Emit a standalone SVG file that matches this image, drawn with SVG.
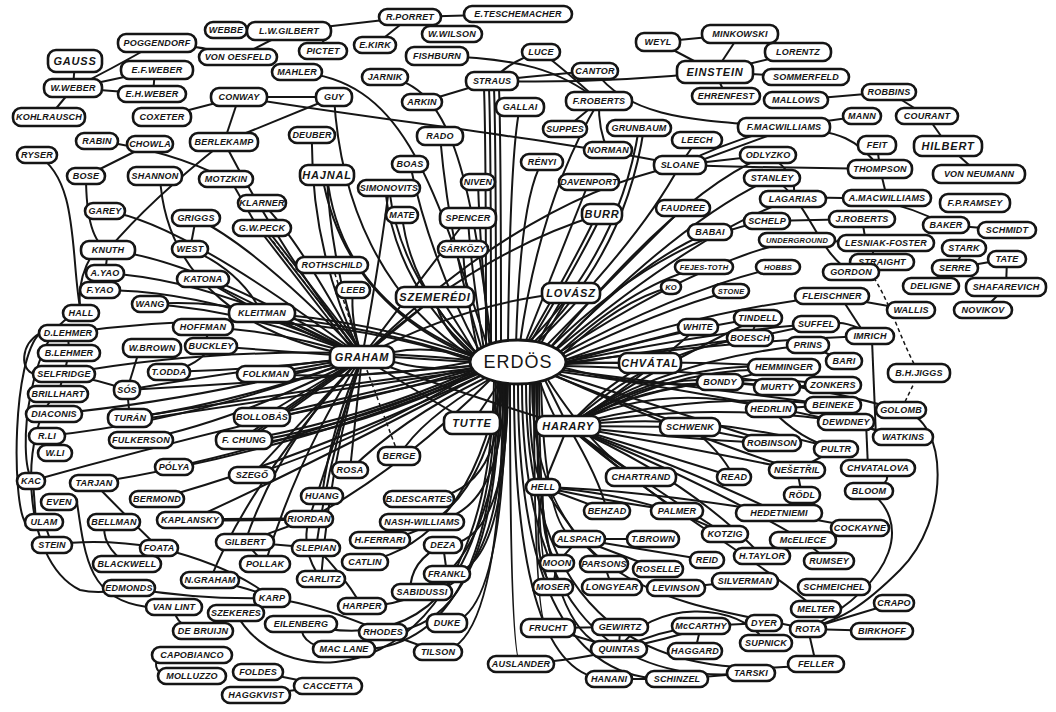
<svg xmlns="http://www.w3.org/2000/svg" width="1056" height="712" viewBox="0 0 1056 712">
<style>
rect{fill:#fff;stroke:#151515;stroke-width:2.6;rx:8px;ry:8px}
ellipse{fill:#fff;stroke:#151515;stroke-width:2.8}
text{font-family:"Liberation Sans",Arial,sans-serif;font-weight:bold;font-style:italic;font-size:9px;letter-spacing:0.2px;text-anchor:middle;dominant-baseline:central;fill:#151515}
text.b{font-size:11px;letter-spacing:0.8px}
text.s{font-size:7.5px}
text.e{font-size:18px;font-style:normal;letter-spacing:1px;font-weight:normal}
#connectors path{fill:none;stroke:#151515;stroke-width:2}
#connectors path.d{stroke-dasharray:4 3;stroke-width:1.5}
#connectors path.t{stroke-width:3.4}
</style>
<rect x="0" y="0" width="1056" height="712" style="fill:#fff;stroke:none;rx:0"/>
<g id="connectors">
<path d="M75 61L73 88"/><path d="M73 88Q110 70 157 43"/><path d="M73 88L157 70"/><path d="M73 88L152 94"/><path d="M155 70L153 94"/><path d="M73 88L49 117"/>
<path d="M157 43Q200 45 238 57"/><path d="M238 57L289 31"/><path d="M226 30L289 31"/><path d="M310 31Q328 38 323 51"/><path d="M289 31L410 17"/><path d="M410 17L375 45"/><path d="M410 17L452 34"/><path d="M410 17L518 14"/>
<path d="M162 117L239 97"/><path d="M239 97L224 142"/><path d="M239 97L334 97"/><path d="M334 97L224 142"/><path d="M239 97C380 120 560 140 680 165"/>
<path d="M297 72C400 80 430 170 488 348"/><path d="M385 77C450 85 470 170 492 348"/><path d="M437 56C520 58 560 70 599 101"/>
<path d="M492 81Q600 84 715 72"/><path d="M595 71Q540 75 492 81"/><path d="M595 71C630 120 700 120 784 127"/><path d="M422 102L492 81"/><path d="M541 52Q565 70 599 101"/><path d="M541 52Q510 60 492 81"/>
<path d="M599 101L565 129"/><path d="M599 101Q598 130 608 150"/>
<path d="M658 42L715 72"/><path d="M658 42L740 34"/><path d="M740 34L715 72"/><path d="M798 52L715 72"/><path d="M806 77L715 72"/><path d="M726 96L715 72"/>
<path d="M796 100L889 92"/><path d="M784 127L862 116"/><path d="M784 127C840 130 860 140 880 169"/><path d="M889 92L927 116"/><path d="M927 116L948 146"/><path d="M948 146L979 174"/><path d="M877 145L880 169"/><path d="M880 169L887 198"/>
<path d="M680 165Q780 168 880 169"/><path d="M680 165Q730 140 784 127"/><path d="M680 168Q735 148 784 130"/><path d="M680 165L768 155"/><path d="M697 140L680 165"/><path d="M768 155Q800 175 793 199"/>
<path d="M793 199C860 195 900 200 946 225"/><path d="M946 225L1007 230"/><path d="M862 219L866 243"/><path d="M870 243L876 262"/><path d="M797 240L886 243"/><path d="M767 221L862 219"/><path d="M772 178C810 200 815 250 851 272"/>
<path class="d" d="M870 272C890 300 900 340 919 373"/>
<path d="M964 248L955 268"/><path d="M955 268L1007 259"/><path d="M955 268L931 286"/><path d="M1007 259L1006 287"/><path d="M1006 287L983 310"/>
<path d="M832 296L911 310"/><path d="M840 296L866 336"/><path d="M816 324Q850 318 870 336"/><path d="M872 340L876 437"/>
<path class="d" d="M919 373L901 410"/>
<path d="M901 410C950 420 950 520 900 570S830 620 808 629"/><path d="M869 491C910 520 900 580 808 629"/><path d="M878 468Q900 480 869 491"/>
<path d="M866 422L868 468"/><path d="M846 422L903 437"/><path d="M836 449L797 470"/><path d="M797 470L802 495"/><path d="M779 513L860 528"/><path d="M803 540L829 561"/><path d="M762 556L803 540"/>
<path d="M808 629L894 603"/><path d="M808 629L882 631"/><path d="M808 629L816 664"/>
<path d="M758 318L750 338"/><path d="M750 338L816 324"/><path d="M808 345L844 361"/><path d="M720 382L777 387"/><path d="M720 382L784 367"/><path d="M777 387L833 385"/><path d="M771 409L833 405"/><path d="M771 409Q800 440 836 449"/><path d="M690 427L772 443"/><path d="M690 427Q720 450 734 477"/>
<path d="M568 426L690 427"/><path d="M568 426Q610 380 650 363"/><path d="M568 426Q660 370 720 382"/><path d="M568 426Q670 360 784 367"/><path d="M568 429Q672 364 784 370"/><path d="M568 426Q670 370 777 387"/><path d="M568 426Q680 365 833 385"/><path d="M568 426Q660 360 808 345"/><path d="M568 426Q650 350 750 338"/><path d="M568 426Q660 380 771 409"/><path d="M568 426Q700 390 833 405"/><path d="M568 426Q700 400 846 422"/><path d="M568 426Q700 410 836 449"/><path d="M568 426Q690 440 772 443"/><path d="M568 426Q700 450 797 470"/><path d="M568 426Q680 460 734 477"/><path d="M568 426Q610 460 641 477"/><path d="M568 426Q620 470 677 511"/><path d="M568 426Q600 480 607 511"/><path d="M568 426Q690 470 779 513"/><path d="M568 426Q690 480 762 556"/><path d="M568 426Q700 480 803 540"/><path d="M568 426C650 500 760 560 816 609"/><path d="M568 426Q640 480 725 534"/><path d="M568 426L543 487"/><path d="M568 426Q640 380 698 327"/><path d="M568 426Q650 370 758 318"/>
<path d="M543 487L607 511"/><path d="M543 487L579 539"/><path d="M543 487Q650 495 725 534"/><path d="M543 487Q640 490 779 513"/><path d="M543 487Q600 500 677 511"/><path d="M543 487Q540 540 557 563"/><path d="M543 487Q530 560 553 587"/>
<path d="M579 539L653 539"/><path d="M579 539L557 563"/><path d="M579 539L604 564"/><path d="M579 539L658 569"/><path d="M579 539L707 560"/><path d="M557 563L553 587"/><path d="M604 564L612 587"/><path d="M676 588L745 581"/>
<path d="M548 628L620 627"/><path d="M548 628L619 649"/><path d="M620 627L619 649"/><path d="M619 649Q660 630 701 626"/><path d="M619 649Q665 640 701 628"/><path d="M701 626L695 651"/><path d="M701 626L764 623"/><path d="M619 649C650 600 740 600 766 643"/><path d="M521 664Q580 660 619 649"/>
<path d="M609 679L677 679"/><path d="M677 679L751 673"/>
<path d="M37 155C80 180 70 260 81 313"/><path d="M97 141Q170 150 226 179"/><path d="M150 144L86 176"/><path d="M86 176Q86 240 108 250"/><path d="M160 176C165 280 250 340 362 357"/><path d="M224 142Q150 200 108 250"/><path d="M230 179L258 228"/><path d="M196 218L190 249"/>
<path d="M108 250L105 273"/><path d="M105 273L100 290"/><path d="M95 250Q75 280 81 313"/><path d="M190 249Q240 270 262 313"/><path d="M203 279L262 313"/><path d="M150 304Q210 300 262 313"/>
<path d="M68 333L69 353"/><path d="M69 353L64 374"/><path d="M64 374L58 394"/><path d="M40 333C20 345 20 370 34 374"/><path d="M203 327L211 346"/><path d="M140 348L127 390"/><path d="M169 372Q200 365 211 346"/><path d="M127 390L130 418"/><path d="M64 374Q100 380 127 390"/><path d="M47 436L55 453"/>
<path d="M33 481L36 522"/><path d="M44 522L52 545"/><path d="M105 522Q100 545 127 564"/><path class="t" d="M190 520L309 519"/><path d="M52 545Q100 538 159 548"/><path d="M94 483Q130 520 159 548"/><path d="M159 548Q230 565 272 598"/>
<path d="M245 542L265 564"/><path d="M245 542L316 548"/><path d="M245 542L309 519"/><path d="M210 580Q250 588 272 598"/><path d="M129 588Q200 600 272 598"/><path d="M174 607Q175 628 203 631"/><path d="M160 655Q150 668 165 676"/>
<path d="M258 672L328 686"/><path d="M256 695L328 686"/><path d="M301 624Q300 650 344 649"/><path d="M383 632L438 652"/><path d="M383 632Q320 605 272 598"/><path d="M362 606Q340 570 316 548"/><path d="M443 545L447 574"/><path d="M410 592Q410 560 443 545"/><path d="M321 579Q300 550 309 519"/>
<path d="M81 313C30 320 15 460 33 481"/><path d="M40 333C12 360 12 500 25 522"/><path d="M58 394C20 420 18 560 80 590Q100 595 129 588"/><path d="M77 502C85 560 90 600 147 607"/><path d="M236 613C280 700 490 700 494 381"/>
<path d="M486 350Q486 140 484 88"/><path d="M491 350Q491 140 489 88"/><path d="M496 350Q496 140 494 88"/><path d="M501 350Q501 140 499 88"/><path d="M508 345Q510 150 520 107"/><path d="M516 345Q520 200 542 162"/><path d="M490 350Q480 250 478 182"/><path d="M484 350Q470 260 468 218"/><path d="M478 352Q465 290 463 249"/><path d="M474 356Q440 330 435 297"/><path d="M476 354Q452 315 440 297"/><path d="M482 350Q450 250 440 136"/><path d="M480 352Q430 260 410 164"/><path d="M478 354Q400 280 389 188"/><path d="M476 356Q395 285 385 188"/><path d="M478 355Q410 290 402 215"/><path d="M476 356Q340 300 327 175"/><path d="M476 358Q345 305 322 175"/><path d="M474 358C380 300 340 200 334 97"/>
<path d="M540 345Q560 310 571 293"/><path d="M536 346Q555 310 566 293"/><path d="M530 343Q580 260 602 214"/><path d="M527 343Q575 260 597 214"/><path d="M525 343Q570 230 589 182"/><path d="M520 343Q540 200 599 101"/><path d="M528 343Q620 250 639 128"/><path d="M532 344Q625 255 644 128"/><path d="M535 345Q640 240 680 165"/><path d="M545 347Q640 250 683 208"/><path d="M555 350Q640 260 710 232"/><path d="M550 348Q660 240 767 221"/><path d="M560 352Q640 280 704 267"/><path d="M562 355Q620 300 671 287"/><path d="M564 357Q660 310 731 291"/><path d="M562 354Q680 290 778 267"/><path d="M560 352Q700 260 797 240"/><path d="M555 350Q680 220 772 178"/><path d="M550 348Q680 190 768 155"/><path d="M556 350Q700 230 793 199"/>
<path d="M565 360Q650 340 698 327"/><path d="M565 360Q700 310 832 296"/><path d="M566 362Q680 330 758 318"/><path d="M566 364Q690 345 750 338"/><path d="M566 362Q720 330 816 324"/><path d="M566 362L620 363"/><path d="M565 368Q650 390 720 382"/><path d="M566 363Q740 340 870 336"/><path d="M566 364Q700 360 784 367"/><path d="M562 370Q720 390 833 405"/><path d="M562 372Q760 400 903 437"/><path d="M565 366Q760 370 901 410"/>
<path d="M545 380L568 426"/><path d="M540 382Q550 410 560 426"/><path d="M500 382L472 423"/><path d="M530 382Q528 460 543 487"/><path d="M555 376Q640 410 690 427"/><path d="M548 380Q600 460 641 477"/><path d="M558 374Q700 420 772 443"/><path d="M556 376Q700 440 797 470"/>
<path d="M510 383Q510 664 521 664"/><path d="M514 383Q514 680 609 679"/><path d="M518 384Q518 688 677 679"/><path d="M522 384Q522 695 751 673"/><path d="M526 384Q526 700 816 664"/><path d="M532 383C532 600 700 605 808 629"/><path d="M534 383Q534 628 548 628"/><path d="M536 383Q538 649 619 649"/><path d="M537 383Q537 587 553 587"/><path d="M539 383Q540 563 557 563"/><path d="M541 383Q545 539 579 539"/>
<path d="M506 383Q504 623 447 623"/><path d="M503 383Q502 652 438 652"/><path d="M500 382Q498 632 383 632"/><path d="M498 381Q496 662 344 649"/><path d="M496 381Q494 672 301 624"/><path d="M501 382Q500 606 362 606"/><path d="M505 383Q505 592 422 592"/><path d="M507 383Q507 574 447 574"/><path d="M508 383Q508 545 443 545"/><path d="M504 383Q503 522 422 522"/><path d="M502 383Q500 499 419 499"/><path d="M500 382Q470 540 365 562"/><path d="M502 382Q480 530 380 540"/>
<path d="M470 362L394 357"/><path d="M470 358Q430 345 394 352"/><path d="M470 366Q430 372 394 362"/><path d="M472 356Q370 320 262 313"/><path d="M472 359Q370 325 262 316"/><path d="M470 362Q380 380 266 374"/><path d="M472 368Q360 395 262 417"/><path d="M472 370Q365 400 262 420"/><path d="M474 370Q360 420 244 440"/><path d="M474 372Q362 424 244 443"/><path d="M475 374Q365 428 244 446"/><path d="M476 372Q360 440 252 475"/><path d="M474 368Q300 390 130 418"/><path d="M474 370Q300 395 130 421"/><path d="M472 366Q300 380 127 390"/><path d="M476 374Q300 440 174 467"/><path d="M485 378Q400 420 350 470"/><path d="M488 380Q420 420 399 456"/><path d="M490 380Q400 470 309 519"/><path d="M480 376Q300 470 190 520"/><path d="M480 376Q300 460 157 499"/><path d="M478 374Q300 450 94 483"/><path d="M478 372Q250 420 31 481"/><path d="M470 360Q250 340 64 374"/><path d="M470 360Q300 300 68 333"/>
<path class="d" d="M362 357L332 265"/><path d="M362 357Q350 320 353 290"/><path d="M362 357L262 313"/><path d="M362 357Q420 280 468 218"/><path d="M362 357L435 297"/><path d="M362 357Q330 260 327 175"/><path d="M362 357Q310 250 312 135"/><path d="M362 357Q380 260 389 188"/><path d="M362 357Q280 250 224 142"/><path d="M362 357Q200 260 108 250"/><path d="M362 357Q180 220 105 211"/><path d="M362 357Q260 250 196 218"/>
<path d="M362 357L262 228"/><path d="M358 357L258 228"/><path d="M366 357L266 228"/><path class="d" d="M356 350L272 240"/><path d="M362 357Q300 240 262 203"/><path d="M362 357L203 279"/><path d="M362 357Q250 310 150 304"/><path d="M362 357Q280 330 203 327"/><path d="M362 357L211 346"/><path d="M362 357L266 374"/><path d="M362 360L266 377"/><path d="M362 357L262 417"/><path d="M362 357L244 440"/><path d="M360 357L240 440"/><path d="M364 357L248 440"/><path d="M362 357L252 475"/>
<path d="M362 357Q260 370 169 372"/><path d="M362 357Q200 400 54 414"/><path d="M362 357Q240 370 127 390"/><path d="M362 357Q250 400 130 418"/><path d="M362 357L309 519"/><path d="M362 357Q300 450 265 564"/><path d="M362 357Q280 440 245 542"/><path d="M362 357L350 470"/><path class="d" d="M362 357L399 456"/><path d="M362 357Q330 430 322 496"/><path d="M362 357Q430 400 472 423"/><path d="M362 357Q470 300 571 293"/><path d="M362 357Q480 250 602 214"/><path d="M362 357Q520 200 680 165"/><path d="M362 357Q480 400 568 426"/><path d="M362 357Q330 460 321 579"/><path d="M362 357Q250 480 210 580"/><path d="M362 357Q330 450 316 548"/><path d="M362 357Q220 280 105 273"/><path d="M362 357Q220 290 100 290"/><path d="M362 357Q240 420 141 440"/><path d="M362 357Q200 420 47 436"/>
</g>
<g id="nodes">
<g id="gauss" transform="translate(75 61)"><rect x="-27" y="-11" width="54" height="22"/><text class="b">GAUSS</text></g>
<g id="w-weber" transform="translate(73 88)"><rect x="-29" y="-9" width="58" height="18"/><text>W.WEBER</text></g>
<g id="poggendorf" transform="translate(157 43)"><rect x="-39" y="-9" width="78" height="18"/><text>POGGENDORF</text></g>
<g id="ef-weber" transform="translate(157 70)"><rect x="-36" y="-9" width="72" height="18"/><text>E.F.WEBER</text></g>
<g id="eh-weber" transform="translate(152 94)"><rect x="-34" y="-8" width="68" height="16"/><text>E.H.WEBER</text></g>
<g id="kohlrausch" transform="translate(49 117)"><rect x="-36" y="-9" width="72" height="18"/><text>KOHLRAUSCH</text></g>
<g id="webbe" transform="translate(226 30)"><rect x="-21" y="-8" width="42" height="16"/><text>WEBBE</text></g>
<g id="lw-gilbert" transform="translate(289 31)"><rect x="-42" y="-9" width="84" height="18"/><text>L.W.GILBERT</text></g>
<g id="von-oesfeld" transform="translate(238 57)"><rect x="-39" y="-8" width="78" height="16"/><text>VON OESFELD</text></g>
<g id="pictet" transform="translate(323 51)"><rect x="-24" y="-8" width="48" height="16"/><text>PICTET</text></g>
<g id="e-kirk" transform="translate(375 45)"><rect x="-21" y="-8" width="42" height="16"/><text>E.KIRK</text></g>
<g id="r-porret" transform="translate(410 17)"><rect x="-31" y="-8" width="62" height="16"/><text>R.PORRET</text></g>
<g id="w-wilson" transform="translate(452 34)"><rect x="-30" y="-8" width="60" height="16"/><text>W.WILSON</text></g>
<g id="e-teschemacher" transform="translate(518 14)"><rect x="-54" y="-8" width="108" height="16"/><text>E.TESCHEMACHER</text></g>
<g id="mahler" transform="translate(297 72)"><rect x="-25" y="-8" width="50" height="16"/><text>MAHLER</text></g>
<g id="jarnik" transform="translate(385 77)"><rect x="-23" y="-8" width="46" height="16"/><text>JARNIK</text></g>
<g id="fishburn" transform="translate(437 56)"><rect x="-31" y="-9" width="62" height="18"/><text>FISHBURN</text></g>
<g id="straus" transform="translate(492 81)"><rect x="-26" y="-9" width="52" height="18"/><text>STRAUS</text></g>
<g id="arkin" transform="translate(422 102)"><rect x="-20" y="-8" width="40" height="16"/><text>ARKIN</text></g>
<g id="gallai" transform="translate(520 107)"><rect x="-24" y="-9" width="48" height="18"/><text>GALLAI</text></g>
<g id="guy" transform="translate(334 97)"><rect x="-18" y="-9" width="36" height="18"/><text>GUY</text></g>
<g id="conway" transform="translate(239 97)"><rect x="-28" y="-9" width="56" height="18"/><text>CONWAY</text></g>
<g id="coxeter" transform="translate(162 117)"><rect x="-29" y="-9" width="58" height="18"/><text>COXETER</text></g>
<g id="berlekamp" transform="translate(224 142)"><rect x="-34" y="-9" width="68" height="18"/><text>BERLEKAMP</text></g>
<g id="rabin" transform="translate(97 141)"><rect x="-21" y="-8" width="42" height="16"/><text>RABIN</text></g>
<g id="chowla" transform="translate(150 144)"><rect x="-23" y="-8" width="46" height="16"/><text>CHOWLA</text></g>
<g id="ryser" transform="translate(37 155)"><rect x="-20" y="-8" width="40" height="16"/><text>RYSER</text></g>
<g id="bose" transform="translate(86 176)"><rect x="-19" y="-8" width="38" height="16"/><text>BOSE</text></g>
<g id="shannon" transform="translate(155 176)"><rect x="-27" y="-9" width="54" height="18"/><text>SHANNON</text></g>
<g id="motzkin" transform="translate(226 179)"><rect x="-27" y="-8" width="54" height="16"/><text>MOTZKIN</text></g>
<g id="klarner" transform="translate(262 203)"><rect x="-24" y="-8" width="48" height="16"/><text>KLARNER</text></g>
<g id="garey" transform="translate(105 211)"><rect x="-20" y="-8" width="40" height="16"/><text>GAREY</text></g>
<g id="griggs" transform="translate(196 218)"><rect x="-24" y="-8" width="48" height="16"/><text>GRIGGS</text></g>
<g id="gw-peck" transform="translate(262 228)"><rect x="-29" y="-8" width="58" height="16"/><text>G.W.PECK</text></g>
<g id="deuber" transform="translate(312 135)"><rect x="-23" y="-8" width="46" height="16"/><text>DEUBER</text></g>
<g id="rado" transform="translate(440 136)"><rect x="-23" y="-9" width="46" height="18"/><text>RADO</text></g>
<g id="boas" transform="translate(410 164)"><rect x="-18" y="-8" width="36" height="16"/><text>BOAS</text></g>
<g id="hajnal" transform="translate(327 175)"><rect x="-27" y="-10" width="54" height="20"/><text class="b">HAJNAL</text></g>
<g id="simonovits" transform="translate(389 188)"><rect x="-31" y="-8" width="62" height="16"/><text>SIMONOVITS</text></g>
<g id="niven" transform="translate(478 182)"><rect x="-17" y="-8" width="34" height="16"/><text>NIVEN</text></g>
<g id="mate" transform="translate(402 215)"><rect x="-16" y="-8" width="32" height="16"/><text>MATE</text></g>
<g id="spencer" transform="translate(468 218)"><rect x="-28" y="-10" width="56" height="20"/><text>SPENCER</text></g>
<g id="luce" transform="translate(541 52)"><rect x="-19" y="-8" width="38" height="16"/><text>LUCE</text></g>
<g id="cantor" transform="translate(595 71)"><rect x="-23" y="-8" width="46" height="16"/><text>CANTOR</text></g>
<g id="f-roberts" transform="translate(599 101)"><rect x="-33" y="-9" width="66" height="18"/><text>F.ROBERTS</text></g>
<g id="suppes" transform="translate(565 129)"><rect x="-22" y="-8" width="44" height="16"/><text>SUPPES</text></g>
<g id="grunbaum" transform="translate(639 128)"><rect x="-32" y="-8" width="64" height="16"/><text>GRUNBAUM</text></g>
<g id="leech" transform="translate(697 140)"><rect x="-25" y="-8" width="50" height="16"/><text>LEECH</text></g>
<g id="norman" transform="translate(608 150)"><rect x="-24" y="-8" width="48" height="16"/><text>NORMAN</text></g>
<g id="renyi" transform="translate(542 162)"><rect x="-21" y="-8" width="42" height="16"/><text>RÉNYI</text></g>
<g id="sloane" transform="translate(680 165)"><rect x="-26" y="-9" width="52" height="18"/><text>SLOANE</text></g>
<g id="davenport" transform="translate(589 182)"><rect x="-30" y="-8" width="60" height="16"/><text>DAVENPORT</text></g>
<g id="burr" transform="translate(602 214)"><rect x="-20" y="-10" width="40" height="20"/><text class="b">BURR</text></g>
<g id="faudree" transform="translate(683 208)"><rect x="-27" y="-8" width="54" height="16"/><text>FAUDREE</text></g>
<g id="babai" transform="translate(710 232)"><rect x="-22" y="-8" width="44" height="16"/><text>BABAI</text></g>
<g id="schelp" transform="translate(767 221)"><rect x="-23" y="-8" width="46" height="16"/><text>SCHELP</text></g>
<g id="weyl" transform="translate(658 42)"><rect x="-22" y="-9" width="44" height="18"/><text>WEYL</text></g>
<g id="minkowski" transform="translate(740 34)"><rect x="-38" y="-9" width="76" height="18"/><text>MINKOWSKI</text></g>
<g id="einstein" transform="translate(715 72)"><rect x="-38" y="-11" width="76" height="22"/><text class="b">EINSTEIN</text></g>
<g id="ehrenfest" transform="translate(726 96)"><rect x="-34" y="-8" width="68" height="16"/><text>EHRENFEST</text></g>
<g id="lorentz" transform="translate(798 52)"><rect x="-33" y="-9" width="66" height="18"/><text>LORENTZ</text></g>
<g id="sommerfeld" transform="translate(806 77)"><rect x="-43" y="-8" width="86" height="16"/><text>SOMMERFELD</text></g>
<g id="mallows" transform="translate(796 100)"><rect x="-32" y="-8" width="64" height="16"/><text>MALLOWS</text></g>
<g id="f-macwilliams" transform="translate(784 127)"><rect x="-46" y="-9" width="92" height="18"/><text>F.MACWILLIAMS</text></g>
<g id="odlyzko" transform="translate(768 155)"><rect x="-28" y="-8" width="56" height="16"/><text>ODLYZKO</text></g>
<g id="stanley" transform="translate(772 178)"><rect x="-28" y="-8" width="56" height="16"/><text>STANLEY</text></g>
<g id="lagarias" transform="translate(793 199)"><rect x="-33" y="-8" width="66" height="16"/><text>LAGARIAS</text></g>
<g id="robbins" transform="translate(889 92)"><rect x="-27" y="-8" width="54" height="16"/><text>ROBBINS</text></g>
<g id="mann" transform="translate(862 116)"><rect x="-19" y="-8" width="38" height="16"/><text>MANN</text></g>
<g id="courant" transform="translate(927 116)"><rect x="-31" y="-8" width="62" height="16"/><text>COURANT</text></g>
<g id="feit" transform="translate(877 145)"><rect x="-19" y="-9" width="38" height="18"/><text>FEIT</text></g>
<g id="hilbert" transform="translate(948 146)"><rect x="-34" y="-10" width="68" height="20"/><text class="b">HILBERT</text></g>
<g id="thompson" transform="translate(880 169)"><rect x="-32" y="-9" width="64" height="18"/><text>THOMPSON</text></g>
<g id="von-neumann" transform="translate(979 174)"><rect x="-46" y="-9" width="92" height="18"/><text>VON NEUMANN</text></g>
<g id="a-macwilliams" transform="translate(887 198)"><rect x="-44" y="-8" width="88" height="16"/><text>A.MACWILLIAMS</text></g>
<g id="fp-ramsey" transform="translate(975 203)"><rect x="-35" y="-9" width="70" height="18"/><text>F.P.RAMSEY</text></g>
<g id="j-roberts" transform="translate(862 219)"><rect x="-33" y="-8" width="66" height="16"/><text>J.ROBERTS</text></g>
<g id="baker" transform="translate(946 225)"><rect x="-23" y="-8" width="46" height="16"/><text>BAKER</text></g>
<g id="schmidt" transform="translate(1007 230)"><rect x="-29" y="-8" width="58" height="16"/><text>SCHMIDT</text></g>
<g id="lesniak-foster" transform="translate(886 243)"><rect x="-48" y="-8" width="96" height="16"/><text>LESNIAK-FOSTER</text></g>
<g id="underground" transform="translate(797 240)"><rect x="-38" y="-7" width="76" height="14"/><text class="s">UNDERGROUND</text></g>
<g id="stark" transform="translate(964 248)"><rect x="-22" y="-8" width="44" height="16"/><text>STARK</text></g>
<g id="straight" transform="translate(882 262)"><rect x="-32" y="-8" width="64" height="16"/><text>STRAIGHT</text></g>
<g id="tate" transform="translate(1007 259)"><rect x="-19" y="-8" width="38" height="16"/><text>TATE</text></g>
<g id="serre" transform="translate(955 268)"><rect x="-23" y="-8" width="46" height="16"/><text>SERRE</text></g>
<g id="gordon" transform="translate(851 272)"><rect x="-28" y="-8" width="56" height="16"/><text>GORDON</text></g>
<g id="deligne" transform="translate(931 286)"><rect x="-28" y="-8" width="56" height="16"/><text>DELIGNE</text></g>
<g id="shafarevich" transform="translate(1006 287)"><rect x="-40" y="-9" width="80" height="18"/><text>SHAFAREVICH</text></g>
<g id="fleischner" transform="translate(832 296)"><rect x="-37" y="-8" width="74" height="16"/><text>FLEISCHNER</text></g>
<g id="novikov" transform="translate(983 310)"><rect x="-29" y="-8" width="58" height="16"/><text>NOVIKOV</text></g>
<g id="wallis" transform="translate(911 310)"><rect x="-24" y="-8" width="48" height="16"/><text>WALLIS</text></g>
<g id="tindell" transform="translate(758 318)"><rect x="-24" y="-8" width="48" height="16"/><text>TINDELL</text></g>
<g id="suffel" transform="translate(816 324)"><rect x="-23" y="-8" width="46" height="16"/><text>SUFFEL</text></g>
<g id="imrich" transform="translate(870 336)"><rect x="-24" y="-8" width="48" height="16"/><text>IMRICH</text></g>
<g id="boesch" transform="translate(750 338)"><rect x="-23" y="-8" width="46" height="16"/><text>BOESCH</text></g>
<g id="white" transform="translate(698 327)"><rect x="-20" y="-8" width="40" height="16"/><text>WHITE</text></g>
<g id="stone" transform="translate(731 291)"><rect x="-18" y="-7" width="36" height="14"/><text class="s">STONE</text></g>
<g id="ko" transform="translate(671 287)"><rect x="-10" y="-7" width="20" height="14"/><text class="s">KO</text></g>
<g id="fejes-toth" transform="translate(704 267)"><rect x="-29" y="-7" width="58" height="14"/><text class="s">FEJES-TOTH</text></g>
<g id="hobbs" transform="translate(778 267)"><rect x="-22" y="-7" width="44" height="14"/><text class="s">HOBBS</text></g>
<g id="prins" transform="translate(808 345)"><rect x="-21" y="-8" width="42" height="16"/><text>PRINS</text></g>
<g id="bari" transform="translate(844 361)"><rect x="-18" y="-8" width="36" height="16"/><text>BARI</text></g>
<g id="hemminger" transform="translate(784 367)"><rect x="-36" y="-8" width="72" height="16"/><text>HEMMINGER</text></g>
<g id="murty" transform="translate(777 387)"><rect x="-23" y="-8" width="46" height="16"/><text>MURTY</text></g>
<g id="bondy" transform="translate(720 382)"><rect x="-23" y="-8" width="46" height="16"/><text>BONDY</text></g>
<g id="zonkers" transform="translate(833 385)"><rect x="-28" y="-8" width="56" height="16"/><text>ZONKERS</text></g>
<g id="hedrlin" transform="translate(771 409)"><rect x="-25" y="-8" width="50" height="16"/><text>HEDRLIN</text></g>
<g id="beineke" transform="translate(833 405)"><rect x="-28" y="-8" width="56" height="16"/><text>BEINEKE</text></g>
<g id="bh-jiggs" transform="translate(919 373)"><rect x="-31" y="-9" width="62" height="18"/><text>B.H.JIGGS</text></g>
<g id="golomb" transform="translate(901 410)"><rect x="-25" y="-8" width="50" height="16"/><text>GOLOMB</text></g>
<g id="dewdney" transform="translate(846 422)"><rect x="-28" y="-8" width="56" height="16"/><text>DEWDNEY</text></g>
<g id="watkins" transform="translate(903 437)"><rect x="-30" y="-8" width="60" height="16"/><text>WATKINS</text></g>
<g id="pultr" transform="translate(836 449)"><rect x="-22" y="-8" width="44" height="16"/><text>PULTR</text></g>
<g id="chvatalova" transform="translate(878 468)"><rect x="-37" y="-8" width="74" height="16"/><text>CHVATALOVA</text></g>
<g id="nesetril" transform="translate(797 470)"><rect x="-28" y="-8" width="56" height="16"/><text>NEŠETŘIL</text></g>
<g id="robinson" transform="translate(772 443)"><rect x="-29" y="-8" width="58" height="16"/><text>ROBINSON</text></g>
<g id="schwenk" transform="translate(690 427)"><rect x="-30" y="-9" width="60" height="18"/><text>SCHWENK</text></g>
<g id="chvatal" transform="translate(650 363)"><rect x="-31" y="-10" width="62" height="20"/><text class="b">CHVÁTAL</text></g>
<g id="harary" transform="translate(568 426)"><rect x="-32" y="-10" width="64" height="20"/><text class="b">HARARY</text></g>
<g id="lovasz" transform="translate(571 293)"><rect x="-29" y="-10" width="58" height="20"/><text class="b">LOVÁSZ</text></g>
<g id="chartrand" transform="translate(641 477)"><rect x="-35" y="-9" width="70" height="18"/><text>CHARTRAND</text></g>
<g id="read" transform="translate(734 477)"><rect x="-17" y="-8" width="34" height="16"/><text>READ</text></g>
<g id="graham" transform="translate(362 357)"><rect x="-32" y="-11" width="64" height="22"/><text class="b">GRAHAM</text></g>
<g id="rothschild" transform="translate(332 265)"><rect x="-36" y="-8" width="72" height="16"/><text>ROTHSCHILD</text></g>
<g id="leeb" transform="translate(353 290)"><rect x="-17" y="-8" width="34" height="16"/><text>LEEB</text></g>
<g id="szemeredi" transform="translate(435 297)"><rect x="-39" y="-10" width="78" height="20"/><text class="b">SZEMERÉDI</text></g>
<g id="sarkozy" transform="translate(463 249)"><rect x="-25" y="-8" width="50" height="16"/><text>SÁRKÖZY</text></g>
<g id="tutte" transform="translate(472 423)"><rect x="-28" y="-11" width="56" height="22"/><text class="b">TUTTE</text></g>
<g id="berge" transform="translate(399 456)"><rect x="-21" y="-9" width="42" height="18"/><text>BERGE</text></g>
<g id="rosa" transform="translate(350 470)"><rect x="-18" y="-8" width="36" height="16"/><text>ROSA</text></g>
<g id="kleitman" transform="translate(262 313)"><rect x="-33" y="-9" width="66" height="18"/><text>KLEITMAN</text></g>
<g id="folkman" transform="translate(266 374)"><rect x="-29" y="-8" width="58" height="16"/><text>FOLKMAN</text></g>
<g id="bollobas" transform="translate(262 417)"><rect x="-28" y="-9" width="56" height="18"/><text>BOLLOBÁS</text></g>
<g id="f-chung" transform="translate(244 440)"><rect x="-28" y="-9" width="56" height="18"/><text>F. CHUNG</text></g>
<g id="szego" transform="translate(252 475)"><rect x="-23" y="-8" width="46" height="16"/><text>SZEGŐ</text></g>
<g id="knuth" transform="translate(108 250)"><rect x="-27" y="-9" width="54" height="18"/><text>KNUTH</text></g>
<g id="west" transform="translate(190 249)"><rect x="-18" y="-8" width="36" height="16"/><text>WEST</text></g>
<g id="a-yao" transform="translate(105 273)"><rect x="-19" y="-8" width="38" height="16"/><text>A.YAO</text></g>
<g id="f-yao" transform="translate(100 290)"><rect x="-20" y="-8" width="40" height="16"/><text>F.YAO</text></g>
<g id="katona" transform="translate(203 279)"><rect x="-26" y="-8" width="52" height="16"/><text>KATONA</text></g>
<g id="wang" transform="translate(150 304)"><rect x="-18" y="-8" width="36" height="16"/><text>WANG</text></g>
<g id="hall" transform="translate(81 313)"><rect x="-18" y="-8" width="36" height="16"/><text>HALL</text></g>
<g id="d-lehmer" transform="translate(68 333)"><rect x="-29" y="-8" width="58" height="16"/><text>D.LEHMER</text></g>
<g id="hoffman" transform="translate(203 327)"><rect x="-30" y="-8" width="60" height="16"/><text>HOFFMAN</text></g>
<g id="b-lehmer" transform="translate(69 353)"><rect x="-31" y="-8" width="62" height="16"/><text>B.LEHMER</text></g>
<g id="w-brown" transform="translate(152 348)"><rect x="-29" y="-9" width="58" height="18"/><text>W.BROWN</text></g>
<g id="buckley" transform="translate(211 346)"><rect x="-26" y="-8" width="52" height="16"/><text>BUCKLEY</text></g>
<g id="t-odda" transform="translate(169 372)"><rect x="-21" y="-8" width="42" height="16"/><text>T.ODDA</text></g>
<g id="selfridge" transform="translate(64 374)"><rect x="-31" y="-8" width="62" height="16"/><text>SELFRIDGE</text></g>
<g id="sos" transform="translate(127 390)"><rect x="-13" y="-9" width="26" height="18"/><text>SÓS</text></g>
<g id="brillhart" transform="translate(58 394)"><rect x="-30" y="-8" width="60" height="16"/><text>BRILLHART</text></g>
<g id="turan" transform="translate(130 418)"><rect x="-22" y="-9" width="44" height="18"/><text>TURÁN</text></g>
<g id="diaconis" transform="translate(54 414)"><rect x="-28" y="-8" width="56" height="16"/><text>DIACONIS</text></g>
<g id="r-li" transform="translate(47 436)"><rect x="-18" y="-8" width="36" height="16"/><text>R.LI</text></g>
<g id="fulkerson" transform="translate(141 440)"><rect x="-32" y="-8" width="64" height="16"/><text>FULKERSON</text></g>
<g id="w-li" transform="translate(55 453)"><rect x="-17" y="-8" width="34" height="16"/><text>W.LI</text></g>
<g id="polya" transform="translate(174 467)"><rect x="-19" y="-8" width="38" height="16"/><text>PÓLYA</text></g>
<g id="kac" transform="translate(31 481)"><rect x="-14" y="-8" width="28" height="16"/><text>KAC</text></g>
<g id="tarjan" transform="translate(94 483)"><rect x="-24" y="-8" width="48" height="16"/><text>TARJAN</text></g>
<g id="even" transform="translate(59 502)"><rect x="-18" y="-8" width="36" height="16"/><text>EVEN</text></g>
<g id="bermond" transform="translate(157 499)"><rect x="-27" y="-8" width="54" height="16"/><text>BERMOND</text></g>
<g id="ulam" transform="translate(44 522)"><rect x="-19" y="-8" width="38" height="16"/><text>ULAM</text></g>
<g id="bellman" transform="translate(114 522)"><rect x="-26" y="-8" width="52" height="16"/><text>BELLMAN</text></g>
<g id="kaplansky" transform="translate(190 520)"><rect x="-33" y="-8" width="66" height="16"/><text>KAPLANSKY</text></g>
<g id="stein" transform="translate(52 545)"><rect x="-20" y="-8" width="40" height="16"/><text>STEIN</text></g>
<g id="foata" transform="translate(159 548)"><rect x="-19" y="-8" width="38" height="16"/><text>FOATA</text></g>
<g id="gilbert" transform="translate(245 542)"><rect x="-29" y="-8" width="58" height="16"/><text>GILBERT</text></g>
<g id="blackwell" transform="translate(127 564)"><rect x="-34" y="-8" width="68" height="16"/><text>BLACKWELL</text></g>
<g id="pollak" transform="translate(265 564)"><rect x="-25" y="-8" width="50" height="16"/><text>POLLAK</text></g>
<g id="n-graham" transform="translate(210 580)"><rect x="-29" y="-8" width="58" height="16"/><text>N.GRAHAM</text></g>
<g id="edmonds" transform="translate(129 588)"><rect x="-26" y="-8" width="52" height="16"/><text>EDMONDS</text></g>
<g id="karp" transform="translate(272 598)"><rect x="-18" y="-9" width="36" height="18"/><text>KARP</text></g>
<g id="van-lint" transform="translate(174 607)"><rect x="-28" y="-8" width="56" height="16"/><text>VAN LINT</text></g>
<g id="szekeres" transform="translate(236 613)"><rect x="-28" y="-8" width="56" height="16"/><text>SZEKERES</text></g>
<g id="de-bruijn" transform="translate(203 631)"><rect x="-30" y="-8" width="60" height="16"/><text>DE BRUIJN</text></g>
<g id="eilenberg" transform="translate(301 624)"><rect x="-36" y="-8" width="72" height="16"/><text>EILENBERG</text></g>
<g id="capobianco" transform="translate(192 655)"><rect x="-40" y="-8" width="80" height="16"/><text>CAPOBIANCO</text></g>
<g id="molluzzo" transform="translate(192 676)"><rect x="-34" y="-8" width="68" height="16"/><text>MOLLUZZO</text></g>
<g id="foldes" transform="translate(258 672)"><rect x="-25" y="-8" width="50" height="16"/><text>FOLDES</text></g>
<g id="haggkvist" transform="translate(256 695)"><rect x="-34" y="-8" width="68" height="16"/><text>HAGGKVIST</text></g>
<g id="caccetta" transform="translate(328 686)"><rect x="-34" y="-8" width="68" height="16"/><text>CACCETTA</text></g>
<g id="mac-lane" transform="translate(344 649)"><rect x="-31" y="-8" width="62" height="16"/><text>MAC LANE</text></g>
<g id="rhodes" transform="translate(383 632)"><rect x="-24" y="-8" width="48" height="16"/><text>RHODES</text></g>
<g id="tilson" transform="translate(438 652)"><rect x="-24" y="-8" width="48" height="16"/><text>TILSON</text></g>
<g id="duke" transform="translate(447 623)"><rect x="-20" y="-9" width="40" height="18"/><text>DUKE</text></g>
<g id="harper" transform="translate(362 606)"><rect x="-24" y="-8" width="48" height="16"/><text>HARPER</text></g>
<g id="sabidussi" transform="translate(422 592)"><rect x="-30" y="-8" width="60" height="16"/><text>SABIDUSSI</text></g>
<g id="frankl" transform="translate(447 574)"><rect x="-23" y="-8" width="46" height="16"/><text>FRANKL</text></g>
<g id="deza" transform="translate(443 545)"><rect x="-19" y="-8" width="38" height="16"/><text>DEZA</text></g>
<g id="carlitz" transform="translate(321 579)"><rect x="-24" y="-8" width="48" height="16"/><text>CARLITZ</text></g>
<g id="catlin" transform="translate(365 562)"><rect x="-23" y="-8" width="46" height="16"/><text>CATLIN</text></g>
<g id="h-ferrari" transform="translate(380 540)"><rect x="-30" y="-8" width="60" height="16"/><text>H.FERRARI</text></g>
<g id="slepian" transform="translate(316 548)"><rect x="-24" y="-8" width="48" height="16"/><text>SLEPIAN</text></g>
<g id="riordan" transform="translate(309 519)"><rect x="-24" y="-8" width="48" height="16"/><text>RIORDAN</text></g>
<g id="huang" transform="translate(322 496)"><rect x="-21" y="-8" width="42" height="16"/><text>HUANG</text></g>
<g id="b-descartes" transform="translate(419 499)"><rect x="-35" y="-8" width="70" height="16"/><text>B.DESCARTES</text></g>
<g id="nash-williams" transform="translate(422 522)"><rect x="-42" y="-8" width="84" height="16"/><text>NASH-WILLIAMS</text></g>
<g id="hell" transform="translate(543 487)"><rect x="-17" y="-8" width="34" height="16"/><text>HELL</text></g>
<g id="behzad" transform="translate(607 511)"><rect x="-23" y="-8" width="46" height="16"/><text>BEHZAD</text></g>
<g id="palmer" transform="translate(677 511)"><rect x="-26" y="-8" width="52" height="16"/><text>PALMER</text></g>
<g id="kotzig" transform="translate(725 534)"><rect x="-23" y="-8" width="46" height="16"/><text>KOTZIG</text></g>
<g id="h-taylor" transform="translate(762 556)"><rect x="-28" y="-8" width="56" height="16"/><text>H.TAYLOR</text></g>
<g id="hedetniemi" transform="translate(779 513)"><rect x="-43" y="-8" width="86" height="16"/><text>HEDETNIEMI</text></g>
<g id="mceliece" transform="translate(803 540)"><rect x="-33" y="-8" width="66" height="16"/><text>McELIECE</text></g>
<g id="alspach" transform="translate(579 539)"><rect x="-26" y="-8" width="52" height="16"/><text>ALSPACH</text></g>
<g id="t-brown" transform="translate(653 539)"><rect x="-26" y="-8" width="52" height="16"/><text>T.BROWN</text></g>
<g id="reid" transform="translate(707 560)"><rect x="-17" y="-8" width="34" height="16"/><text>REID</text></g>
<g id="moon" transform="translate(557 563)"><rect x="-17" y="-8" width="34" height="16"/><text>MOON</text></g>
<g id="parsons" transform="translate(604 564)"><rect x="-24" y="-8" width="48" height="16"/><text>PARSONS</text></g>
<g id="roselle" transform="translate(658 569)"><rect x="-25" y="-8" width="50" height="16"/><text>ROSELLE</text></g>
<g id="moser" transform="translate(553 587)"><rect x="-20" y="-8" width="40" height="16"/><text>MOSER</text></g>
<g id="longyear" transform="translate(612 587)"><rect x="-30" y="-8" width="60" height="16"/><text>LONGYEAR</text></g>
<g id="levinson" transform="translate(676 588)"><rect x="-29" y="-8" width="58" height="16"/><text>LEVINSON</text></g>
<g id="silverman" transform="translate(745 581)"><rect x="-33" y="-8" width="66" height="16"/><text>SILVERMAN</text></g>
<g id="frucht" transform="translate(548 628)"><rect x="-27" y="-9" width="54" height="18"/><text>FRUCHT</text></g>
<g id="gewirtz" transform="translate(620 627)"><rect x="-28" y="-8" width="56" height="16"/><text>GEWIRTZ</text></g>
<g id="mccarthy" transform="translate(701 626)"><rect x="-29" y="-8" width="58" height="16"/><text>McCARTHY</text></g>
<g id="dyer" transform="translate(764 623)"><rect x="-18" y="-8" width="36" height="16"/><text>DYER</text></g>
<g id="quintas" transform="translate(619 649)"><rect x="-28" y="-8" width="56" height="16"/><text>QUINTAS</text></g>
<g id="haggard" transform="translate(695 651)"><rect x="-27" y="-8" width="54" height="16"/><text>HAGGARD</text></g>
<g id="supnick" transform="translate(766 643)"><rect x="-26" y="-8" width="52" height="16"/><text>SUPNICK</text></g>
<g id="auslander" transform="translate(521 664)"><rect x="-33" y="-8" width="66" height="16"/><text>AUSLANDER</text></g>
<g id="hanani" transform="translate(609 679)"><rect x="-23" y="-8" width="46" height="16"/><text>HANANI</text></g>
<g id="schinzel" transform="translate(677 679)"><rect x="-31" y="-8" width="62" height="16"/><text>SCHINZEL</text></g>
<g id="tarski" transform="translate(751 673)"><rect x="-24" y="-8" width="48" height="16"/><text>TARSKI</text></g>
<g id="feller" transform="translate(816 664)"><rect x="-28" y="-8" width="56" height="16"/><text>FELLER</text></g>
<g id="rota" transform="translate(808 629)"><rect x="-18" y="-8" width="36" height="16"/><text>ROTA</text></g>
<g id="birkhoff" transform="translate(882 631)"><rect x="-31" y="-8" width="62" height="16"/><text>BIRKHOFF</text></g>
<g id="crapo" transform="translate(894 603)"><rect x="-20" y="-8" width="40" height="16"/><text>CRAPO</text></g>
<g id="melter" transform="translate(816 609)"><rect x="-25" y="-8" width="50" height="16"/><text>MELTER</text></g>
<g id="schmeichel" transform="translate(834 587)"><rect x="-36" y="-8" width="72" height="16"/><text>SCHMEICHEL</text></g>
<g id="rumsey" transform="translate(829 561)"><rect x="-25" y="-8" width="50" height="16"/><text>RUMSEY</text></g>
<g id="cockayne" transform="translate(860 528)"><rect x="-29" y="-8" width="58" height="16"/><text>COCKAYNE</text></g>
<g id="bloom" transform="translate(869 491)"><rect x="-24" y="-8" width="48" height="16"/><text>BLOOM</text></g>
<g id="rodl" transform="translate(802 495)"><rect x="-18" y="-8" width="36" height="16"/><text>RÖDL</text></g>
<g id="erdos" transform="translate(518 362)"><ellipse rx="48" ry="22"/><text class="e">ERDÖS</text></g>
</g>
</svg>
